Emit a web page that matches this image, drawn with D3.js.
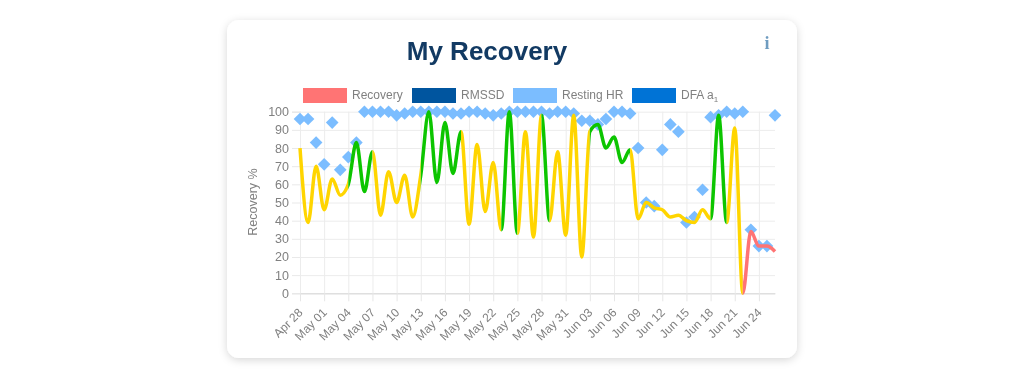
<!DOCTYPE html>
<html><head><meta charset="utf-8">
<script src="https://cdn.jsdelivr.net/npm/d3@7/dist/d3.min.js"></script>
<style>
html,body{margin:0;padding:0;background:#fff;overflow:hidden}
svg{display:block;filter:blur(0.6px)}
text{font-family:"Liberation Sans",Arial,sans-serif}
</style></head><body>
<svg id="c" width="1024" height="379"></svg>
<script>
const recovery=[80,39,70,46,63,54,60,83,56,78,43,67,50,65,42,65,100,61,94,66,89,38,82,45,72,35,100,33,89,31,98,40,78,32,98,20,89,93,80,86,72,79,41,50,47,46,42,43,40,39,46,41,98,39,91,0,34,26,26,23];
const restingHR=[96,96,83,71,94,68,75,83,100,100,100,100,98,99,100,100,100,100,100,99,99,100,100,99,98,99,100,100,100,100,100,99,100,100,99,95,95,93,96,100,100,99,80,50,48,79,93,89,39,42,57,97,98,100,99,100,35,26,26,98];
const zoneEnds=[6,9,15,20,25,27,30,31,36,41,51,53,55,59];
const zoneColors=["#ffd500","#0cc500","#ffd500","#0cc500","#ffd500","#0cc500","#ffd500","#0cc500","#ffd500","#0cc500","#ffd500","#0cc500","#ffd500","#ff7474"];
const legendNames=["Recovery","RMSSD","Resting HR","DFA a"];
const legendColors=["#ff7474","#00559f","#7bbdff","#0073d6"];
const legendX=[303,412,513,632];
const yTicks=d3.range(0,101,10);

const start=new Date(2021,3,28);
const dates=recovery.map((_,i)=>d3.timeDay.offset(start,i));
const fmt=d3.timeFormat("%b %d");
const svg=d3.select("#c");
const defs=svg.append("defs");
const f=defs.append("filter").attr("id","sh").attr("x","-10%").attr("y","-10%").attr("width","120%").attr("height","120%");
f.append("feDropShadow").attr("dx",0).attr("dy",2).attr("stdDeviation",4).attr("flood-color","#000").attr("flood-opacity",0.16);
svg.append("rect").attr("x",227).attr("y",20).attr("width",570).attr("height",338).attr("rx",12).attr("fill","#fff").attr("filter","url(#sh)");

svg.append("text").attr("x",487).attr("y",60).attr("text-anchor","middle").attr("font-size",26).attr("font-weight",700).attr("fill","#123a63").text("My Recovery");
svg.append("text").attr("x",767).attr("y",49).attr("text-anchor","middle").attr("font-size",18).attr("font-weight",700).attr("fill","#6f9cc0").style("font-family","'Liberation Serif',serif").text("i");

const x=d3.scaleLinear().domain([0,recovery.length-1]).range([300,775]);
const y=d3.scaleLinear().domain([0,100]).range([293.3,111.7]);

// legend
legendNames.forEach((n,i)=>{
  svg.append("rect").attr("x",legendX[i]).attr("y",88).attr("width",44).attr("height",15).attr("fill",legendColors[i]);
  const t=svg.append("text").attr("x",legendX[i]+49).attr("y",99).attr("font-size",12).attr("fill","#808080").text(n);
  if(i===3) t.append("tspan").attr("font-size",8).attr("dy",3).text("1");
});

// axes
const tickIdx=d3.range(0,recovery.length,3).filter(i=>i<=57);
const yAxis=d3.axisLeft(y).tickValues(yTicks).tickSize(8).tickPadding(3);
const gy=svg.append("g").attr("transform","translate(300,0)").call(yAxis);
gy.select(".domain").attr("stroke","#dedede");
gy.selectAll("line").attr("stroke","#e9e9e9");
gy.selectAll("text").attr("font-size",12.5).attr("fill","#808080");
gy.selectAll(".tick").append("line").attr("x1",0).attr("x2",475).attr("stroke",d=>d===0?"#dcdcdc":"#ececec");

const xAxis=d3.axisBottom(x).tickValues(tickIdx).tickFormat(i=>fmt(dates[i])).tickSize(8).tickSizeOuter(0).tickPadding(4);
const gx=svg.append("g").attr("transform","translate(0,293.3)").call(xAxis);
gx.select(".domain").attr("stroke","#dcdcdc");
gx.selectAll("line").attr("stroke","#e6e6e6");
gx.selectAll(".tick").append("line").attr("y1",0).attr("y2",y(100)-y(0)).attr("stroke","#ececec");
gx.selectAll("text").attr("font-size",12).attr("fill","#808080").attr("text-anchor","end").attr("dy",0).attr("transform","translate(3,20) rotate(-45)").attr("y",0).attr("x",0);

svg.append("text").attr("transform","translate(257,202) rotate(-90)").attr("text-anchor","middle").attr("font-size",12.5).attr("fill","#808080").text("Recovery %");

// resting HR diamonds
svg.append("g").selectAll("path").data(restingHR).join("path")
  .attr("d",d3.symbol(d3.symbolSquare,80)())
  .attr("transform",(d,i)=>`translate(${x(i)},${y(d)}) rotate(45)`)
  .attr("fill","#7bbdff");

// recovery line, split into coloured zones
const line=d3.line().x((d,i)=>x(i)).y(d=>y(d)).curve(d3.curveMonotoneX);
const pathD=line(recovery);
zoneEnds.forEach((e,k)=>{
  const s=k?zoneEnds[k-1]:0;
  const id="z"+k;
  defs.append("clipPath").attr("id",id).append("rect").attr("x",k?x(s):x(s)-5).attr("y",90).attr("width",x(e)-x(s)+(k?0:5)+(k===zoneEnds.length-1?5:0)).attr("height",220);
  svg.append("path").attr("d",pathD).attr("fill","none").attr("stroke",zoneColors[k]).attr("stroke-width",3.5).attr("clip-path",`url(#${id})`);
});
</script></body></html>
